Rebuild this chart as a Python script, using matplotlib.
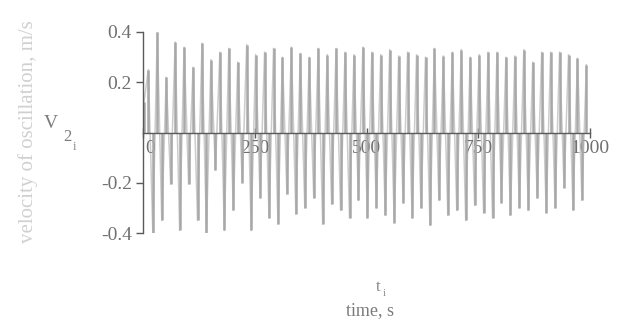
import matplotlib
matplotlib.use("Agg")
import matplotlib.pyplot as plt
import matplotlib.transforms as mtransforms

# Oscillation velocity record: alternating crest / trough values (m/s) and their times (s)
t_start = [2]
v_start = [0.12]

t_crest = [12, 32, 52, 72, 92, 112, 132, 152, 172, 192, 212, 232, 252, 272, 292,
           312, 332, 352, 372, 392, 412, 432, 452, 472, 492, 512, 532, 552, 572,
           592, 612, 632, 652, 672, 692, 712, 732, 752, 772, 792, 812, 832, 852,
           872, 892, 912, 932, 952, 972, 992]
v_crest = [0.25, 0.40, 0.22, 0.36, 0.34, 0.26, 0.355, 0.29, 0.32, 0.335, 0.28,
           0.35, 0.31, 0.32, 0.335, 0.30, 0.34, 0.315, 0.30, 0.335, 0.31, 0.335,
           0.32, 0.31, 0.34, 0.32, 0.31, 0.33, 0.305, 0.32, 0.31, 0.30, 0.335,
           0.305, 0.32, 0.33, 0.30, 0.31, 0.32, 0.32, 0.30, 0.305, 0.33, 0.28,
           0.32, 0.32, 0.32, 0.31, 0.295, 0.27]

t_trough = [22, 42, 62, 82, 102, 122, 142, 162, 182, 202, 222, 242, 262, 282,
            302, 322, 342, 362, 382, 402, 422, 442, 462, 482, 502, 522, 542, 562,
            582, 602, 622, 642, 662, 682, 702, 722, 742, 762, 782, 802, 822, 842,
            862, 882, 902, 922, 942, 962, 982]
v_trough = [-0.40, -0.35, -0.205, -0.39, -0.205, -0.35, -0.40, -0.15, -0.39,
            -0.31, -0.20, -0.39, -0.26, -0.34, -0.365, -0.245, -0.325, -0.30,
            -0.26, -0.365, -0.285, -0.31, -0.34, -0.27, -0.34, -0.30, -0.33,
            -0.36, -0.28, -0.34, -0.30, -0.37, -0.27, -0.33, -0.31, -0.35, -0.29,
            -0.32, -0.34, -0.28, -0.33, -0.30, -0.31, -0.26, -0.32, -0.30, -0.22,
            -0.31, -0.27]

x_ticks = [0, 250, 500, 750, 1000]
x_ticklabels = ["0", "250", "500", "750", "1000"]
y_ticks = [-0.4, -0.2, 0.2, 0.4]
y_ticklabels = ["-0.4", "-0.2", "0.2", "0.4"]

# merge the extremes into one time-ordered trace
pts = sorted(zip(t_start + t_crest + t_trough, v_start + v_crest + v_trough))
t = [p[0] for p in pts]
v = [p[1] for p in pts]

plt.rcParams["font.family"] = ["Liberation Serif", "DejaVu Serif"]
plt.rcParams["axes.unicode_minus"] = False

fig = plt.figure(figsize=(6.25, 3.2), dpi=100)
ax = fig.add_axes([143 / 625, 87 / 320, 447 / 625, 201 / 320])

# faint trace joining the extremes, then the dense vertical strokes on top
ax.plot(t, v, color="#cbcbcb", lw=1.1, zorder=1)
ax.vlines(t_crest, 0, v_crest, color="#a8a8a8", lw=1.8, zorder=2)
ax.vlines(t_trough, v_trough, 0, color="#a8a8a8", lw=1.8, zorder=2)
ax.vlines(t_start, 0, v_start, color="#a8a8a8", lw=1.8, zorder=2)

ax.set_xlim(0, 1000)
ax.set_ylim(-0.4, 0.4)
ax.set_facecolor("none")

axis_col = "#5a5a5a"
text_col = "#707070"
for s in ("top", "right"):
    ax.spines[s].set_visible(False)
ax.spines["left"].set_position(("data", 0))
ax.spines["bottom"].set_position(("data", 0))
ax.spines["left"].set_color(axis_col)
ax.spines["bottom"].set_color(axis_col)
ax.spines["left"].set_linewidth(1.0)
ax.spines["bottom"].set_linewidth(1.0)
ax.spines["bottom"].set_zorder(3)

ax.set_xticks(x_ticks)
ax.set_xticklabels(x_ticklabels)
ax.set_yticks(y_ticks)
ax.set_yticklabels(y_ticklabels)
ax.tick_params(axis="x", direction="inout", length=7, width=1.0, color=axis_col,
               labelsize=14, labelcolor=text_col, pad=2)
ax.tick_params(axis="y", direction="out", length=5, width=1.0, color=axis_col,
               labelsize=14, labelcolor=text_col, pad=3)

# nudge the origin label off the vertical axis
for lbl in ax.get_xticklabels():
    if lbl.get_text() == "0":
        lbl.set_transform(lbl.get_transform() +
                          mtransforms.ScaledTranslation(7 / 100, 0, fig.dpi_scale_trans))

# axis names
fig.text(28 / 625, 1 - 132 / 320, "velocity of oscillation, m/s", rotation=90,
         ha="center", va="center", fontsize=15, color="#d0d0d0")
fig.text(51 / 625, 1 - 123 / 320, "V", ha="center", va="center", fontsize=14,
         color="#7a7a7a")
fig.text(67 / 625, 1 - 137 / 320, "2", ha="center", va="center", fontsize=12,
         color="#7a7a7a")
fig.text(74 / 625, 1 - 147 / 320, "i", ha="center", va="center", fontsize=9,
         color="#8a8a8a")
fig.text(378 / 625, 1 - 287 / 320, "t", ha="center", va="center", fontsize=12,
         color="#8a8a8a")
fig.text(384 / 625, 1 - 294 / 320, "i", ha="center", va="center", fontsize=8,
         color="#8a8a8a")
fig.text(370 / 625, 1 - 311 / 320, "time, s", ha="center", va="center",
         fontsize=13, color="#7a7a7a")

fig.savefig("out.png", dpi=100, facecolor="white")
